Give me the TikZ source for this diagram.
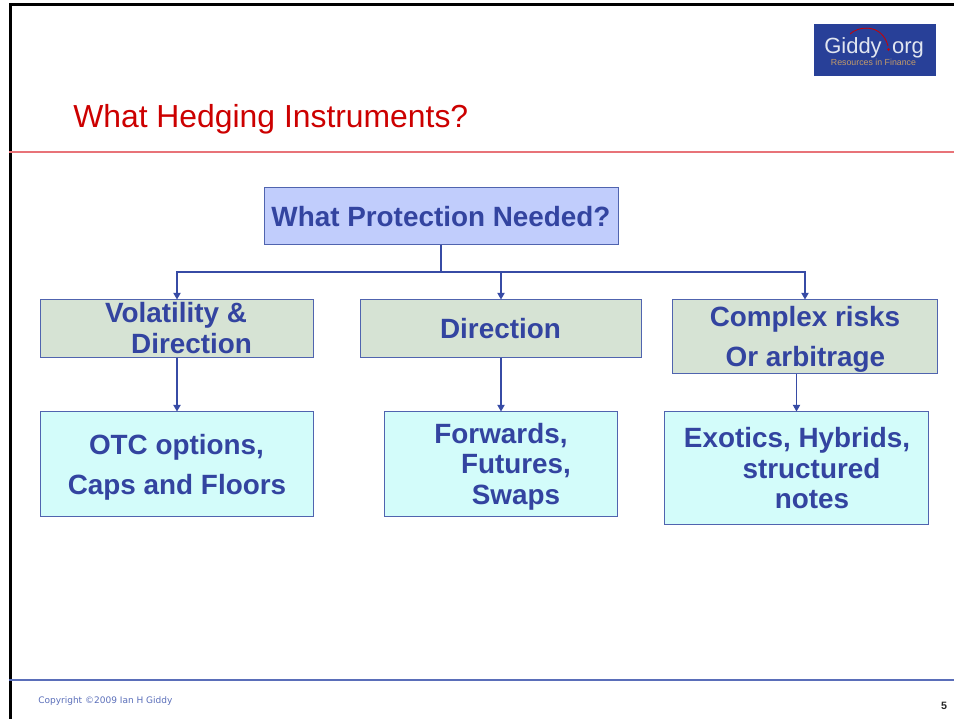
\documentclass[tikz,border=0pt]{standalone}
\usepackage{fontspec}
\setmainfont{Liberation Sans}
\newfontfamily\footfont{DejaVu Sans}
\usetikzlibrary{arrows.meta}
\definecolor{navy}{RGB}{51,68,160}
\definecolor{edgeblue}{RGB}{80,100,175}
\definecolor{connblue}{RGB}{55,75,165}
\definecolor{topfill}{RGB}{193,205,252}
\definecolor{midfill}{RGB}{214,227,212}
\definecolor{lowfill}{RGB}{211,252,250}
\definecolor{titlered}{RGB}{204,0,0}
\definecolor{rulered}{RGB}{232,115,120}
\definecolor{logoblue}{RGB}{40,64,152}
\definecolor{logotan}{RGB}{195,155,105}
\definecolor{logogrey}{RGB}{225,230,240}
\definecolor{footblue}{RGB}{90,110,185}
\tikzset{
  x=0.75pt,y=-0.75pt,
  boxbase/.style={draw=edgeblue,line width=1pt,inner sep=0pt,outer sep=0pt,anchor=north west},
  topbox/.style={boxbase,fill=topfill},
  midbox/.style={boxbase,fill=midfill},
  lowbox/.style={boxbase,fill=lowfill},
  boxtext/.style={text=navy,font=\bfseries\fontsize{20.9}{22.5}\selectfont,inner sep=0pt,anchor=base},
  conn/.style={draw=connblue,line width=#1},
  conn/.default=0.8pt,
  arrowconn/.style={conn=#1,-{Triangle[length=5pt,width=5.5pt]}},
  arrowconn/.default=0.8pt
}
\begin{document}
\begin{tikzpicture}
\useasboundingbox (0,0) rectangle (954,719);
% frame
\draw[black,line width=2.2pt] (954,4.5) -- (10.5,4.5) -- (10.5,719);
\draw[rulered,line width=0.8pt] (9,152) -- (954,152);
\draw[footblue,line width=0.8pt] (9,680) -- (954,680);
% logo
\node[fill=logoblue,minimum width=91.5pt,minimum height=39pt,inner sep=0pt,anchor=north west] (logo) at (814,24) {};
\draw[titlered,line width=0.6pt] (850,34) .. controls (858,26) and (882,23) .. (888,46);
\fill[titlered] (888.5,49.5) circle (1.3);
\node[text=logogrey,font=\fontsize{16.5}{17}\selectfont,inner sep=0pt,anchor=base] (logoa) at (853,53) {Giddy};
\node[text=logogrey,font=\fontsize{16.5}{17}\selectfont,inner sep=0pt,anchor=base] (logob) at (908,53) {org};
\node[text=logotan,font=\fontsize{6.6}{8}\selectfont,inner sep=0pt] (logoc) at (873.5,62) {Resources in Finance};
% title
\node[text=titlered,font=\fontsize{23.9}{26}\selectfont,inner sep=0pt,anchor=base west] (title) at (73,127) {What Hedging Instruments?};
% boxes
\node[topbox,minimum width=265.5pt,minimum height=42.75pt] (top) at (264.5,187.5) {};
\node[midbox,minimum width=204.75pt,minimum height=43.5pt] (m1) at (40.5,299.5) {};
\node[midbox,minimum width=210.75pt,minimum height=43.5pt] (m2) at (360.5,299.5) {};
\node[midbox,minimum width=198.75pt,minimum height=55.5pt] (m3) at (672.5,299.5) {};
\node[lowbox,minimum width=204.75pt,minimum height=78.75pt] (l1) at (40.5,411.5) {};
\node[lowbox,minimum width=174.75pt,minimum height=78.75pt] (l2) at (384.5,411.5) {};
\node[lowbox,minimum width=198pt,minimum height=84.75pt] (l3) at (664.5,411.5) {};
% texts
\node[boxtext] (toptext) at (441,226.5) {What Protection Needed?};
\node[boxtext] (t1a) at (176,322.7) {Volatility \&};
\node[boxtext] (t1b) at (191.6,353.8) {Direction};
\node[boxtext] (t2) at (500.5,338.5) {Direction};
\node[boxtext] (t3a) at (805,326.5) {Complex risks};
\node[boxtext] (t3b) at (805.5,366.5) {Or arbitrage};
\node[boxtext] (t4a) at (176.5,454.1) {OTC options,};
\node[boxtext] (t4b) at (177,494.1) {Caps and Floors};
\node[boxtext] (t5a) at (501,443.1) {Forwards,};
\node[boxtext] (t5b) at (516,473.5) {Futures,};
\node[boxtext] (t5c) at (516,504) {Swaps};
\node[boxtext] (t6a) at (797,447.5) {Exotics, Hybrids,};
\node[boxtext] (t6b) at (811.5,478.1) {structured};
\node[boxtext] (t6c) at (812,508.5) {notes};
% connectors
\coordinate (bus) at (441,272);
\draw[conn=1pt] (top.south -| bus) -- (bus);
\draw[arrowconn] (bus) -| (m1.north);
\draw[arrowconn] (bus) -| (m2.north);
\draw[arrowconn] (bus) -| (m3.north);
\draw[arrowconn=1pt] (m1.south) -- (l1.north);
\draw[arrowconn] (m2.south) -- (m2.south |- l2.north);
\draw[arrowconn] (m3.south -| l3.north) -- (l3.north);
% footer
\node[text=footblue,font=\footfont\fontsize{6.75}{8}\selectfont,inner sep=0pt,anchor=base west] (copy) at (38,703) {Copyright ©2009 Ian H Giddy};
\node[text=black!85,font=\bfseries\fontsize{8}{9}\selectfont,inner sep=0pt,anchor=base] (pg) at (944,709) {5};
\end{tikzpicture}
\end{document}
